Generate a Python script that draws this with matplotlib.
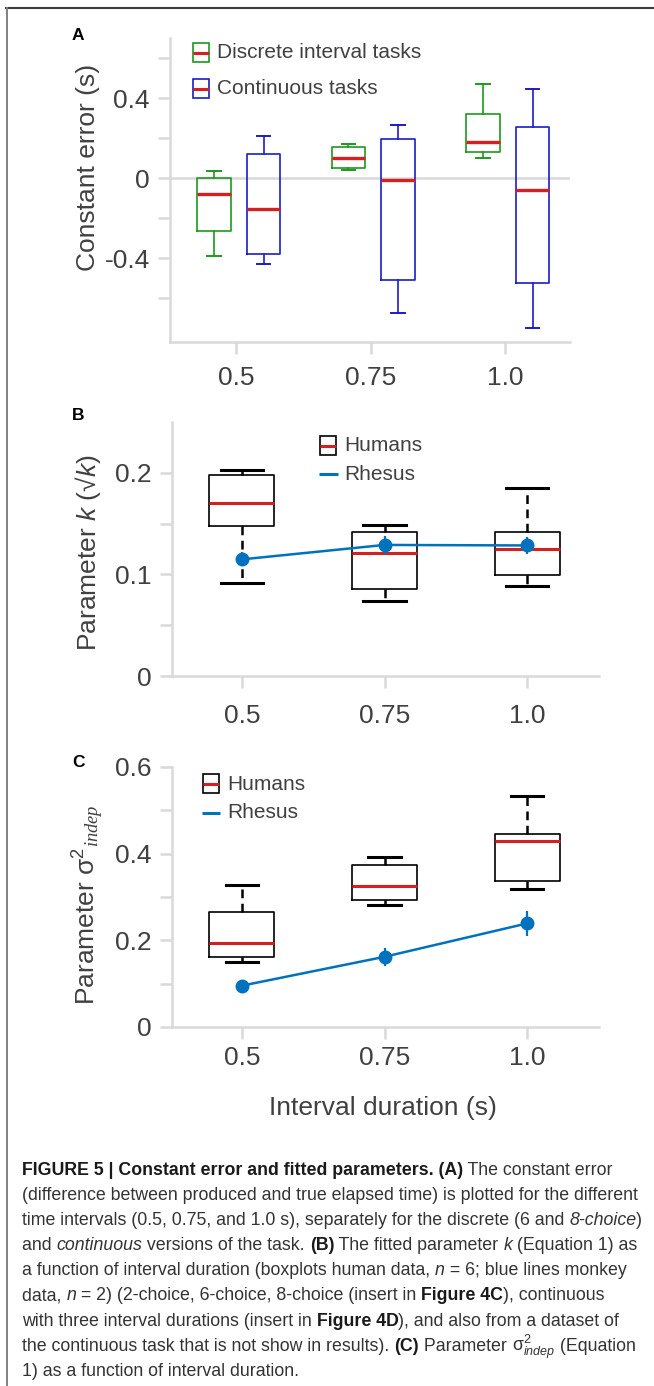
import matplotlib
matplotlib.use('Agg')
import matplotlib.pyplot as plt
import matplotlib.font_manager as fm
from matplotlib.lines import Line2D
from matplotlib.patches import Rectangle
import numpy as np

# ---------------- data ----------------
durations = ['0.5', '0.75', '1.0']

# Panel A (constant error, s): discrete interval tasks
a_disc_whislo = [-0.39, 0.038, 0.10]
a_disc_q1 = [-0.267, 0.052, 0.128]
a_disc_med = [-0.08, 0.098, 0.178]
a_disc_q3 = [0.0, 0.153, 0.322]
a_disc_whishi = [0.033, 0.17, 0.468]
# Panel A: continuous tasks
a_cont_whislo = [-0.43, -0.675, -0.752]
a_cont_q1 = [-0.38, -0.508, -0.525]
a_cont_med = [-0.153, -0.01, -0.06]
a_cont_q3 = [0.12, 0.197, 0.253]
a_cont_whishi = [0.21, 0.265, 0.443]

# Panel B (parameter k): humans boxplots
b_hum_whislo = [0.092, 0.074, 0.0885]
b_hum_q1 = [0.148, 0.0856, 0.099]
b_hum_med = [0.170, 0.121, 0.1246]
b_hum_q3 = [0.198, 0.142, 0.142]
b_hum_whishi = [0.2026, 0.149, 0.1846]
# Panel B: rhesus
b_rh_mean = [0.1148, 0.129, 0.1285]
b_rh_err = [0.007, 0.009, 0.008]

# Panel C (sigma^2 indep): humans boxplots
c_hum_whislo = [0.15, 0.281, 0.318]
c_hum_q1 = [0.1615, 0.292, 0.338]
c_hum_med = [0.193, 0.326, 0.429]
c_hum_q3 = [0.265, 0.375, 0.445]
c_hum_whishi = [0.328, 0.393, 0.533]
# Panel C: rhesus
c_rh_mean = [0.0954, 0.162, 0.239]
c_rh_err = [0.004, 0.021, 0.028]

# ---------------- style ----------------
plt.rcParams['font.family'] = ['Liberation Sans', 'DejaVu Sans']
plt.rcParams['mathtext.fontset'] = 'custom'
plt.rcParams['mathtext.rm'] = 'Liberation Sans'
plt.rcParams['mathtext.it'] = 'Liberation Sans:italic'
plt.rcParams['mathtext.bf'] = 'Liberation Sans:bold'
plt.rcParams['mathtext.cal'] = 'Liberation Serif:italic'

names = {f.name for f in fm.fontManager.ttflist}
CAPF = 'Liberation Sans Narrow' if 'Liberation Sans Narrow' in names else 'Liberation Sans'

W, H = 654, 1386
AXC = '#d9d9d9'
TXC = '#404040'
GREEN = '#1e9a1e'
BLUE = '#1c1cc8'
RED = '#d42020'
RH = '#0072bd'

fig = plt.figure(figsize=(W / 100, H / 100), dpi=100)
fig.patch.set_facecolor('white')


def P(x, y):
    return (x / W, 1 - y / H)


def add_axes_px(l, t, r, b):
    return fig.add_axes([l / W, 1 - b / H, (r - l) / W, (b - t) / H])


def stats(lo, q1, med, q3, hi):
    return [dict(whislo=a, q1=b, med=c, q3=d, whishi=e, fliers=[])
            for a, b, c, d, e in zip(lo, q1, med, q3, hi)]


x = np.arange(1, len(durations) + 1)


def style_axes(ax, xlim, ylim, majors, major_labels, minors, xpad):
    ax.set_xlim(*xlim)
    ax.set_ylim(*ylim)
    for s in ['top', 'right']:
        ax.spines[s].set_visible(False)
    for s in ['left', 'bottom']:
        ax.spines[s].set_color(AXC)
        ax.spines[s].set_linewidth(1.8)
    ax.set_yticks(majors)
    ax.set_yticklabels(major_labels)
    ax.set_yticks(minors, minor=True)
    ax.set_xticks(x)
    ax.set_xticklabels(durations)
    ax.tick_params(axis='both', which='both', direction='out', length=8.6,
                   width=1.8, color=AXC, labelcolor=TXC, labelsize=19)
    ax.tick_params(axis='y', which='both', pad=6)
    ax.tick_params(axis='x', which='both', pad=xpad)
    ax.patch.set_alpha(0)


# ---------------- Panel A ----------------
axA = add_axes_px(170, 38, 570, 342)
style_axes(axA, (0.509, 3.483), (-0.82, 0.70), [-0.4, 0, 0.4], ['-0.4', '0', '0.4'],
           [-0.6, -0.2, 0.2, 0.6], 8.5)
axA.axhline(0, color=AXC, lw=1.8, zorder=0)
for st, off, col in [(stats(a_disc_whislo, a_disc_q1, a_disc_med, a_disc_q3, a_disc_whishi), -0.165, GREEN),
                     (stats(a_cont_whislo, a_cont_q1, a_cont_med, a_cont_q3, a_cont_whishi), 0.205, BLUE)]:
    axA.bxp(st, positions=x + off, widths=0.25, capwidths=0.1, showfliers=False,
            manage_ticks=False,
            boxprops=dict(color=col, linewidth=1.2),
            whiskerprops=dict(color=col, linewidth=1.2),
            capprops=dict(color=col, linewidth=1.4),
            medianprops=dict(color=RED, linewidth=2.4, solid_capstyle='butt'))

# ---------------- Panel B ----------------
axB = add_axes_px(172, 422, 599, 676)
style_axes(axB, (0.509, 3.505), (0, 0.25), [0, 0.1, 0.2], ['0', '0.1', '0.2'],
           [0.05, 0.15], 11.5)
axB.bxp(stats(b_hum_whislo, b_hum_q1, b_hum_med, b_hum_q3, b_hum_whishi),
        positions=x, widths=0.456, capwidths=0.3, showfliers=False, manage_ticks=False,
        boxprops=dict(color='black', linewidth=1.2),
        whiskerprops=dict(color='black', linewidth=1.8, linestyle=(0, (3.5, 2.2))),
        capprops=dict(color='black', linewidth=2.2),
        medianprops=dict(color=RED, linewidth=2.2, solid_capstyle='butt'))
axB.errorbar(x, b_rh_mean, yerr=b_rh_err, color=RH, lw=1.8, marker='o', ms=9,
             elinewidth=1.6, capsize=0, zorder=5)

# ---------------- Panel C ----------------
axC = add_axes_px(172, 767, 599, 1027)
style_axes(axC, (0.509, 3.505), (0, 0.6), [0, 0.2, 0.4, 0.6], ['0', '0.2', '0.4', '0.6'],
           [0.1, 0.3, 0.5], 5)
axC.bxp(stats(c_hum_whislo, c_hum_q1, c_hum_med, c_hum_q3, c_hum_whishi),
        positions=x, widths=0.456, capwidths=0.23, showfliers=False, manage_ticks=False,
        boxprops=dict(color='black', linewidth=1.2),
        whiskerprops=dict(color='black', linewidth=1.8, linestyle=(0, (3.5, 2.2))),
        capprops=dict(color='black', linewidth=2.2),
        medianprops=dict(color=RED, linewidth=2.2, solid_capstyle='butt'))
axC.errorbar(x, c_rh_mean, yerr=c_rh_err, color=RH, lw=1.8, marker='o', ms=9,
             elinewidth=1.6, capsize=0, zorder=5)

# ---------------- legends (manual) ----------------
def box_glyph(x0, y0, x1, y1, edge):
    fig.add_artist(Rectangle(P(x0, y1), (x1 - x0) / W, (y1 - y0) / H, fill=False,
                             ec=edge, lw=1.2, transform=fig.transFigure))
    yc = (y0 + y1) / 2
    fig.add_artist(Line2D([x0 / W, x1 / W], [1 - yc / H] * 2, color=RED, lw=2.2,
                          transform=fig.transFigure, solid_capstyle='butt'))


def line_glyph(x0, x1, y, col):
    fig.add_artist(Line2D([x0 / W, x1 / W], [1 - y / H] * 2, color=col, lw=2.2,
                          transform=fig.transFigure, solid_capstyle='butt'))


LEGFS = 15
box_glyph(193, 43, 209, 62, GREEN)
fig.text(*P(217, 53), 'Discrete interval tasks', fontsize=LEGFS, color=TXC, va='center')
box_glyph(193, 79, 209, 98, BLUE)
fig.text(*P(217, 89), 'Continuous tasks', fontsize=LEGFS, color=TXC, va='center')

box_glyph(320, 436, 336, 455, 'black')
fig.text(*P(344, 446), 'Humans', fontsize=LEGFS, color=TXC, va='center')
line_glyph(319, 338, 474, RH)
fig.text(*P(344, 475), 'Rhesus', fontsize=LEGFS, color=TXC, va='center')

box_glyph(203, 774, 219, 793, 'black')
fig.text(*P(227, 784), 'Humans', fontsize=LEGFS, color=TXC, va='center')
line_glyph(202, 220, 813, RH)
fig.text(*P(227, 813), 'Rhesus', fontsize=LEGFS, color=TXC, va='center')

# ---------------- labels ----------------
for lab, yb in [('A', 40), ('B', 420), ('C', 767)]:
    fig.text(*P(72, yb), lab, fontsize=12.5, weight='bold', color='black', va='baseline')

fig.text(*P(88, 167), 'Constant error (s)', fontsize=19, color=TXC, rotation=90,
         ha='center', va='center')
fig.text(*P(88, 553), 'Parameter $k$ (\u221a$k$)', fontsize=19, color=TXC, rotation=90,
         ha='center', va='center')
fig.text(*P(88, 905), 'Parameter $\\mathrm{\\sigma}^{2}{}_{\\mathcal{indep}}$', fontsize=19,
         color=TXC, rotation=90, ha='center', va='center')
fig.text(*P(383, 1108), 'Interval duration (s)', fontsize=19, color=TXC,
         ha='center', va='center')

# ---------------- frame ----------------
fig.add_artist(Line2D([6 / W, 1], [1 - 8 / H] * 2, color='#3c3c3c', lw=1.5,
                      transform=fig.transFigure))
fig.add_artist(Line2D([7 / W, 7 / W], [1 - 8 / H, 0], color='#808080', lw=1.4,
                      transform=fig.transFigure))

# ---------------- caption ----------------
renderer = fig.canvas.get_renderer()
REGC = '#333333'
BOLDC = '#1a1a1a'


def props(style, size):
    p = dict(fontsize=size, family=[CAPF, 'DejaVu Sans'], color=REGC)
    if style == 'b':
        p.update(weight='bold', color=BOLDC)
    elif style == 'i':
        p.update(style='italic')
    return p


def text_width(s, p):
    if '$' in s:
        t = fig.text(0, 0, s, **p)
        w = t.get_window_extent(renderer).width
        t.remove()
        return w
    t1 = fig.text(0, 0, '|' + s + '|', **p)
    t2 = fig.text(0, 0, '||', **p)
    w = t1.get_window_extent(renderer).width - t2.get_window_extent(renderer).width
    t1.remove()
    t2.remove()
    return w


cap_lines = [
    [('FIGURE 5 | Constant error and fitted parameters. (A)', 'b'), (' The constant error', 'r')],
    [('(difference between produced and true elapsed time) is plotted for the different', 'r')],
    [('time intervals (0.5, 0.75, and 1.0 s), separately for the discrete (6 and ', 'r'),
     ('8-choice', 'i'), (')', 'r')],
    [('and ', 'r'), ('continuous', 'i'), (' versions of the task. ', 'r'), ('(B)', 'b'),
     (' The fitted parameter ', 'r'), ('k', 'i'), (' (Equation 1) as', 'r')],
    [('a function of interval duration (boxplots human data, ', 'r'), ('n', 'i'),
     (' = 6; blue lines monkey', 'r')],
    [('data, ', 'r'), ('n', 'i'), (' = 2) (2-choice, 6-choice, 8-choice (insert in ', 'r'),
     ('Figure 4C', 'b'), ('), continuous', 'r')],
    [('with three interval durations (insert in ', 'r'), ('Figure 4D', 'b'),
     ('), and also from a dataset of', 'r')],
    [('the continuous task that is not show in results). ', 'r'), ('(C)', 'b'),
     (' Parameter ', 'r'), ('$\\mathrm{\\sigma}^{2}_{indep}$', 'r'), (' (Equation', 'r')],
    [('1) as a function of interval duration.', 'r')],
]

base = 12.0
w2 = text_width(cap_lines[1][0][0], props('r', base))
CAPFS = base * 620.0 / w2

y0 = 1175
dy = 25.1
for i, line in enumerate(cap_lines):
    cx = 22.0
    yb = y0 + i * dy
    for s, st in line:
        p = props(st, CAPFS)
        fig.text(*P(cx, yb), s, va='baseline', ha='left', **p)
        cx += text_width(s, p)

fig.savefig('out.png', dpi=100, facecolor='white')
